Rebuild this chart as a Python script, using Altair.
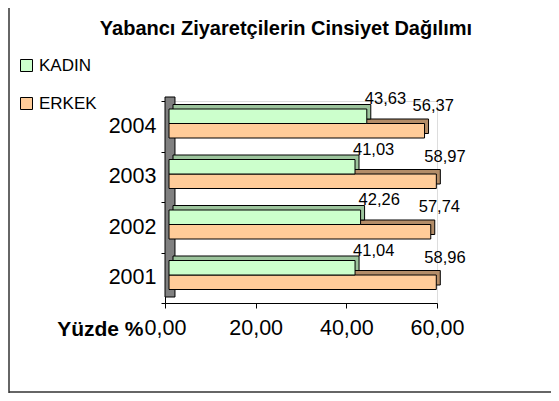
import altair as alt
import pandas as pd

# ---- data ----
years = ["2004", "2003", "2002", "2001"]
kadin = [43.63, 41.03, 42.26, 41.04]
erkek = [56.37, 58.97, 57.74, 58.96]
series = ["KADIN", "ERKEK"]
front_colors = ["#CCFFCC", "#FFCC99"]
depth_colors = ["#9CC49C", "#B38D68"]
x_ticks = [0, 20, 40, 60]
chart_title = "Yabancı Ziyaretçilerin Cinsiyet Dağılımı"

rows = []
for yr, k, e in zip(years, kadin, erkek):
    rows.append({"year": yr, "series": "KADIN", "value": k})
    rows.append({"year": yr, "series": "ERKEK", "value": e})
df = pd.DataFrame(rows)

FONT = "Liberation Sans"
W, H = 272, 202
BAR_H = 14.5
K_DY, E_DY = -10, 4.5
FRONT_DX = 4
DEPTH_DX, DEPTH_DY = 4, -4.5

xscale = alt.Scale(domain=[0, 60], nice=False, zero=True)
yscale = alt.Scale(domain=years, paddingInner=0, paddingOuter=0)

x_axis = alt.Axis(
    values=x_ticks,
    labelExpr="replace(format(datum.value, '.2f'), '.', ',')",
    title="Yüzde %",
    titleFont=FONT, titleFontSize=21, titleFontWeight="bold", titleColor="black",
    titleX=-22, titleY=32, titleAlign="right", titleBaseline="alphabetic", titleAngle=0,
    labelFont=FONT, labelFontSize=21.5, labelColor="black", labelPadding=9,
    labelFlush=False, labelOverlap=False,
    tickSize=5, tickColor="black", domainColor="black", grid=False,
)
y_axis = alt.Axis(
    title=None, tickBand="extent", tickSize=4, tickColor="black",
    domainColor="black", labelPadding=5, labelFont=FONT, labelFontSize=21.5,
    labelColor="black", grid=False,
)

X = alt.X("value:Q", scale=xscale, axis=x_axis)
Y = alt.Y("year:N", scale=yscale, axis=y_axis, sort=years)

color = alt.Color(
    "series:N",
    scale=alt.Scale(domain=series, range=front_colors),
    legend=alt.Legend(
        title=None, orient="none", legendX=-147, legendY=-44, padding=0,
        symbolType="square", symbolSize=144, symbolStrokeColor="black",
        symbolStrokeWidth=1, symbolOpacity=1,
        labelFont=FONT, labelFontSize=17, labelColor="black", labelOffset=4,
        rowPadding=20,
    ),
)

base = alt.Chart(df)

# back wall (3D decoration)
wall = alt.Chart(pd.DataFrame({"x0": [0], "x1": [2.2]})).mark_rect(
    fill="#808080", stroke="black", strokeWidth=1
).encode(
    x=alt.X("x0:Q", scale=xscale, axis=x_axis), x2="x1:Q",
    y=alt.value(-4), y2=alt.value(196),
)

def bar_layers(name, dy, idx):
    sub = base.transform_filter(alt.datum.series == name)
    back = sub.mark_bar(
        size=BAR_H, xOffset=FRONT_DX + DEPTH_DX, x2Offset=FRONT_DX + DEPTH_DX,
        yOffset=dy + DEPTH_DY, color=depth_colors[idx], stroke="black", strokeWidth=1,
    ).encode(x=X, x2=alt.datum(0), y=Y)
    front = sub.mark_bar(
        size=BAR_H, xOffset=FRONT_DX, x2Offset=FRONT_DX, yOffset=dy,
        stroke="black", strokeWidth=1, opacity=1,
    ).encode(x=X, x2=alt.datum(0), y=Y, color=color)
    return back, front

e_back, e_front = bar_layers("ERKEK", E_DY, 1)
k_back, k_front = bar_layers("KADIN", K_DY, 0)

def label_layer(name, dx, dy):
    return base.transform_filter(alt.datum.series == name).transform_calculate(
        lab="replace(format(datum.value, '.2f'), '.', ',')"
    ).mark_text(
        align="left", baseline="middle", dx=dx, dy=dy, font=FONT,
        fontSize=16.5, color="black",
    ).encode(x=X, y=Y, text="lab:N")

k_lab = label_layer("KADIN", 2, -27)
e_lab = label_layer("ERKEK", -8, -20)

frame_df = pd.DataFrame({"a": [0]})
title_layer = alt.Chart(pd.DataFrame({"t": [chart_title]})).mark_text(
    font=FONT, fontSize=20, fontWeight="bold", color="black",
    align="center", baseline="middle",
).encode(x=alt.value(121), y=alt.value(-72), text="t:N")

left_border = alt.Chart(frame_df).mark_rule(color="#333333", strokeWidth=1.5).encode(
    x=alt.value(-156), y=alt.value(-93), y2=alt.value(292)
)
bottom_border = alt.Chart(frame_df).mark_rule(color="#333333", strokeWidth=1.5).encode(
    x=alt.value(-156), x2=alt.value(386), y=alt.value(291)
)

chart = alt.layer(
    wall, e_back, e_front, k_back, k_front, k_lab, e_lab, title_layer,
    left_border, bottom_border
).properties(
    width=W, height=H,
    autosize=alt.AutoSizeParams(type="none"),
    padding={"left": 157, "top": 93, "right": 114, "bottom": 90},
).configure_view(stroke=None).configure(background="white")

chart.save("out.html", embed_options={"renderer": "svg", "actions": False})
